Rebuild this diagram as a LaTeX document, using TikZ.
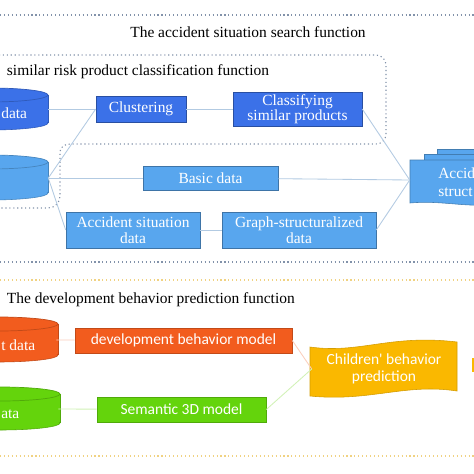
\documentclass[tikz,border=0pt]{standalone}
\usepackage{fontspec}
\setmainfont{Liberation Serif}
\newfontfamily\calfont{Carlito}

\definecolor{darkblue}{RGB}{59,113,232}
\definecolor{lightblue}{RGB}{88,166,238}
\definecolor{boxorange}{RGB}{242,92,30}
\definecolor{boxgreen}{RGB}{100,212,12}
\definecolor{boxyellow}{RGB}{250,184,0}
\definecolor{linkblue}{RGB}{178,202,226}
\definecolor{frameblue}{RGB}{130,146,170}
\definecolor{frameyellow}{RGB}{240,210,130}

\tikzstyle{darkNode} = [rectangle, fill=darkblue, draw=darkblue!70!black, text=white, align=center, inner sep=1pt, font=\rmfamily\fontsize{11}{11}\selectfont]
\tikzstyle{lightNode} = [rectangle, fill=lightblue, draw=lightblue!70!black, text=white, align=center, inner sep=1pt, font=\rmfamily\fontsize{11}{11}\selectfont]
\tikzstyle{calNode} = [rectangle, text=white, align=center, inner sep=1pt, font=\calfont\fontsize{11}{12}\selectfont]
\tikzstyle{dbAnchor} = [rectangle, minimum width=2.9cm, inner sep=0pt]
\tikzstyle{dbText} = [text=white, anchor=west, inner sep=0pt, font=\rmfamily\fontsize{11}{11}\selectfont]
\tikzstyle{titleText} = [font=\rmfamily\fontsize{11}{11}\selectfont]
\tikzstyle{link} = [linkblue, line width=0.6pt]
\tikzstyle{frame} = [frameblue, dotted, line width=0.8pt]

% cylinder: centre x, top y, bottom y, x radius (px), colour
\newcommand{\dbdraw}[5]{%
    \fill[#5] (#1-#4,#2) rectangle (#1+#4,#3);
    \filldraw[fill=#5, draw=#5!80!black, line width=0.4pt] (#1,#3) ellipse [x radius=#4*0.025cm, y radius=0.175cm];
    \fill[#5] (#1-#4,#2) rectangle (#1+#4,#3-1);
    \draw[#5!80!black, line width=0.4pt] (#1+#4,#2) -- (#1+#4,#3);
    \filldraw[fill=#5, draw=#5!80!black, line width=0.5pt] (#1,#2) ellipse [x radius=#4*0.025cm, y radius=0.175cm];
}

\begin{document}
\begin{tikzpicture}[x=0.025cm, y=-0.025cm]
    \useasboundingbox (0,0) rectangle (474,474);
    \fill[white] (0,0) rectangle (474,474);

    % accident situation search function
    \draw[frame] (0,15) -- (474,15);
    \node (title1)[titleText] at (248,32) {The accident situation search function};
    \draw[frame] (-5,55) -- (376,55) to[out=0,in=90] (386,65) -- (386,134) to[out=-90,in=0] (376,144)
        -- (70,144) to[out=180,in=90] (60,152) -- (60,196) to[out=-90,in=0] (48,208) -- (-5,208);
    \node (subtitle1)[titleText, anchor=west] at (2,72) {similar risk product classification function};

    \dbdraw{-10}{95}{123}{58}{darkblue}
    \node (cyl1)[dbAnchor, minimum height=1.05cm] at (-10,109) {};
    \node (cyl1txt)[dbText] at (1,113) {data};
    \dbdraw{-10}{162}{193}{58}{lightblue}
    \node (cyl2)[dbAnchor, minimum height=1.12cm] at (-10,178) {};

    \node (clus)[darkNode, minimum width=2.25cm, minimum height=0.65cm] at (141,109) {Clustering};
    \node (classify)[darkNode, minimum width=3.225cm, minimum height=0.85cm] at (297.5,109) {Classifying\\similar products};
    \node (basic)[lightNode, minimum width=3.375cm, minimum height=0.6cm] at (210.5,178) {Basic data};
    \node (accsit)[lightNode, minimum width=3.35cm, minimum height=0.9cm] at (133,230) {Accident situation\\data};
    \node (graph)[lightNode, minimum width=3.85cm, minimum height=0.9cm] at (299,230) {Graph-structuralized\\data};

    % stacked documents
    \filldraw[fill=lightblue, draw=lightblue!75!black, line width=0.4pt] (437,149) -- (490,149) -- (490,190) -- (437,190) -- cycle;
    \filldraw[fill=lightblue, draw=lightblue!75!black, line width=0.4pt] (424,154) -- (490,154) -- (490,196) -- (424,196) -- cycle;
    \filldraw[fill=lightblue, draw=lightblue!75!black, line width=0.4pt] (410,160) -- (490,160) -- (490,204)
        .. controls (470,208) and (440,200) .. (410,203) -- cycle;
    \node (struct)[minimum width=2cm, minimum height=1.1cm, inner sep=0pt] at (450,180) {};
    \node (structtxt)[dbText, align=left, font=\rmfamily\fontsize{11}{13}\selectfont] at (438,182) {Accid\\struct};

    \draw[link] (cyl1.east) -- (clus);
    \draw[link] (clus) -- (classify);
    \draw[link] (classify.east) -- (struct.west);
    \draw[link] (cyl2.east) -- (clus.west);
    \draw[link] (cyl2.east) -- (basic);
    \draw[link] (basic) -- (struct.west);
    \draw[link] (cyl2.east) -- (accsit.west);
    \draw[link] (accsit) -- (graph);
    \draw[link] (graph.east) -- (struct.west);
    \draw[frame] (0,262) -- (474,262);

    % development behavior prediction function
    \draw[frameyellow, dotted, line width=0.8pt] (0,280) -- (474,280);
    \node (title2)[titleText, anchor=west] at (2,300) {The development behavior prediction function};

    \dbdraw{-2}{324}{355}{60}{boxorange}
    \node (cyl3)[dbAnchor, minimum height=1.1cm] at (-2,340) {};
    \node (cyl3txt)[dbText] at (1,345) {t data};
    \dbdraw{0}{394}{423}{60}{boxgreen}
    \node (cyl4)[dbAnchor, minimum height=1.1cm] at (0,409) {};
    \node (cyl4txt)[dbText] at (1,414) {ata};

    \node (devmodel)[calNode, fill=boxorange, draw=boxorange!80!black, minimum width=5.425cm, minimum height=0.625cm] at (183.5,340.5) {development behavior model};
    \node (sem)[calNode, fill=boxgreen, draw=boxgreen!80!black, minimum width=4.225cm, minimum height=0.625cm] at (181.5,409.5) {Semantic 3D model};

    \filldraw[fill=boxyellow, draw=boxyellow!85!black, line width=0.4pt] (310,347) .. controls (360,354) and (390,334) .. (457,342)
        -- (457,391) .. controls (405,383) and (370,402) .. (310,396) -- cycle;
    \node (predict)[calNode, minimum width=3.6cm, minimum height=1.2cm] at (384,369) {Children' behavior\\prediction};
    \fill[boxyellow] (472,358) rectangle (476,372);

    \draw[boxorange!30, line width=0.6pt] (cyl3.east) -- (devmodel);
    \draw[boxorange!30, line width=0.6pt] (devmodel.east) -- (predict.west);
    \draw[boxgreen!30, line width=0.6pt] (cyl4.east) -- (sem);
    \draw[boxgreen!30, line width=0.6pt] (sem.east) -- (predict.west);
    \draw[frameyellow, dotted, line width=0.8pt] (0,456) -- (474,456);
\end{tikzpicture}
\end{document}
